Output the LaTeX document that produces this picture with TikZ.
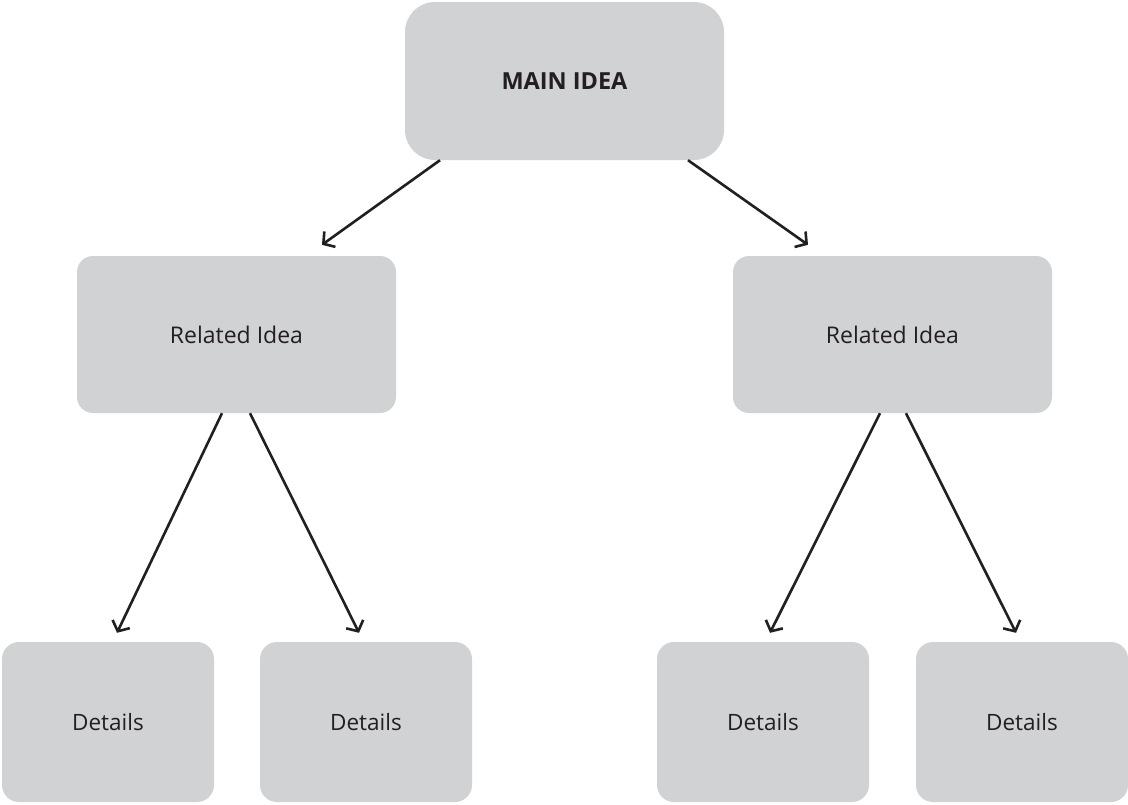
\documentclass[tikz,border=0pt]{standalone}
\usepackage{fontspec}
\setmainfont{Open Sans}
\usetikzlibrary{arrows.meta}
\definecolor{boxgray}{HTML}{D1D2D4}
\definecolor{ink}{HTML}{231F20}
\begin{document}
\begin{tikzpicture}[x=1pt,y=-1pt,
  box/.style={fill=boxgray, draw=none, inner sep=0pt, text=ink, font=\fontsize{22.5}{26}\selectfont},
  mainbox/.style={box, minimum width=319pt, minimum height=158pt, rounded corners=30pt, font=\fontsize{23.5}{27}\selectfont\bfseries},
  relbox/.style={box, minimum width=319pt, minimum height=157pt, rounded corners=16pt, font=\fontsize{23}{27}\selectfont},
  detbox/.style={box, minimum width=212pt, minimum height=160pt, rounded corners=17pt},
  arr/.style={draw=ink, line width=2.6pt, -{Straight Barb[length=8pt,width=19pt,line width=2.6pt]}}
]
\useasboundingbox (0,0) rectangle (1128,804);
\node[mainbox] (main) at (564.5,81) {\raisebox{-2pt}{MAIN IDEA}};
\node[relbox] (rl) at (236.5,334.5) {\raisebox{-2.5pt}{Related Idea}};
\node[relbox] (rr) at (892.5,334.5) {\raisebox{-2.5pt}{Related Idea}};
\node[detbox] (d1) at (108,722) {Details};
\node[detbox] (d2) at (366,722) {Details};
\node[detbox] (d3) at (763,722) {Details};
\node[detbox] (d4) at (1022,722) {Details};
\draw[arr] ([xshift=-124.5pt]main.south) -- ([xshift=85.5pt,yshift=11pt]rl.north);
\draw[arr] ([xshift=123.5pt]main.south) -- ([xshift=-84.5pt,yshift=11pt]rr.north);
\draw[arr] ([xshift=-14.5pt]rl.south) -- ([xshift=9pt,yshift=9pt]d1.north);
\draw[arr] ([xshift=13.5pt]rl.south) -- ([xshift=-7pt,yshift=9pt]d2.north);
\draw[arr] ([xshift=-12.5pt]rr.south) -- ([xshift=7pt,yshift=9pt]d3.north);
\draw[arr] ([xshift=13.5pt]rr.south) -- ([xshift=-6pt,yshift=9pt]d4.north);
\end{tikzpicture}
\end{document}
